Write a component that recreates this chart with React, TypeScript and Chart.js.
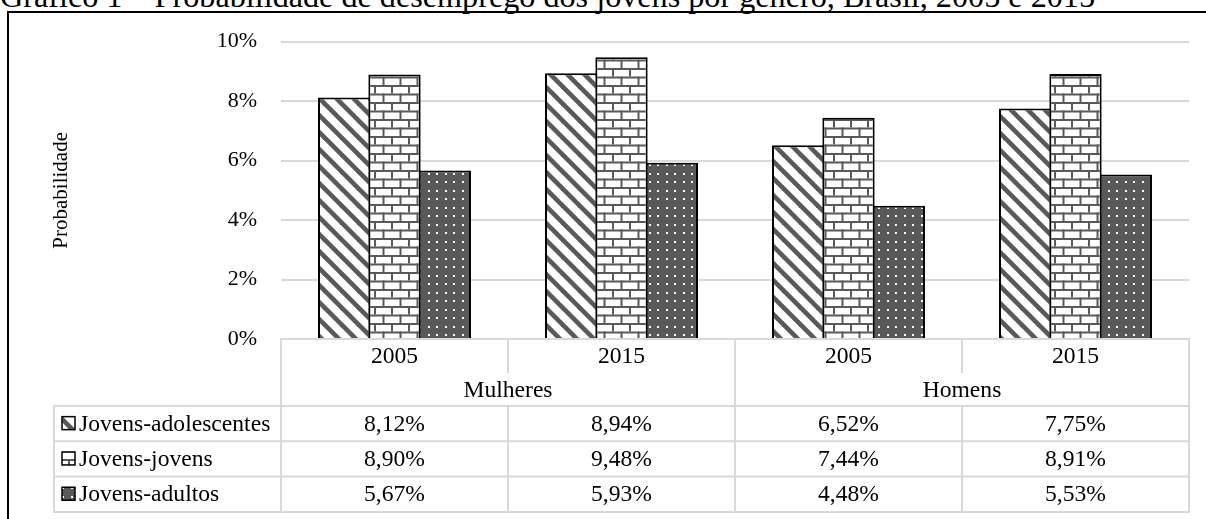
import React, { useEffect, useRef } from "react";
import { Chart, registerables } from "chart.js";

Chart.register(...registerables);

const categories = ["2005", "2015", "2005", "2015"];
const groups = ["Mulheres", "Homens"];
const seriesNames = ["Jovens-adolescentes", "Jovens-jovens", "Jovens-adultos"];
const adolescentes = [8.12, 8.94, 6.52, 7.75];
const jovens = [8.9, 9.48, 7.44, 8.91];
const adultos = [5.67, 5.93, 4.48, 5.53];
const yTicks = [0, 2, 4, 6, 8, 10];

const TITLE = "Gráfico 1 – Probabilidade de desemprego dos jovens por gênero, Brasil, 2005 e 2015";
const FONT = '"Liberation Serif", "Times New Roman", serif';
const DARK = "#595959";
const GRID = "#d9d9d9";

function makeTile(draw: (c: CanvasRenderingContext2D) => void, size: number) {
  const cv = document.createElement("canvas");
  cv.width = size;
  cv.height = size;
  const c = cv.getContext("2d")!;
  draw(c);
  return c.createPattern(cv, "repeat")!;
}

function stripePattern() {
  const T = 17;
  return makeTile((c) => {
    c.fillStyle = "#fff";
    c.fillRect(0, 0, T, T);
    c.strokeStyle = DARK;
    c.lineWidth = 4.6;
    for (let k = -1; k <= 1; k++) {
      c.beginPath();
      c.moveTo(k * T - 2, -2);
      c.lineTo(k * T + T + 2, T + 2);
      c.stroke();
    }
  }, T);
}

function brickPattern() {
  const T = 17;
  return makeTile((c) => {
    c.fillStyle = "#fff";
    c.fillRect(0, 0, T, T);
    c.fillStyle = DARK;
    c.fillRect(0, 0, T, 2);
    c.fillRect(0, 8.5, T, 2);
    c.fillRect(0, 0, 2, 8.5);
    c.fillRect(8.5, 8.5, 2, 8.5);
  }, T);
}

function dotPattern() {
  const T = 17;
  return makeTile((c) => {
    c.fillStyle = DARK;
    c.fillRect(0, 0, T, T);
    c.fillStyle = "#fff";
    for (const px of [3, 11]) {
      for (const py of [3, 11]) {
        c.fillRect(px, py, 2, 2);
      }
    }
  }, T);
}

const fmt = (v: number) => v.toFixed(2).replace(".", ",") + "%";

export default function App() {
  const ref = useRef<HTMLCanvasElement>(null);

  useEffect(() => {
    const canvas = ref.current!;
    const patterns = [stripePattern(), brickPattern(), dotPattern()];
    const seriesData = [adolescentes, jovens, adultos];

    const tablePlugin = {
      id: "dataTable",
      afterDraw(chart: any) {
        const { ctx, chartArea } = chart;
        const x = chart.scales.x;
        const n = categories.length;
        const centers = categories.map((_, i) => x.getPixelForValue(i));
        const bounds = [chartArea.left];
        for (let i = 1; i < n; i++) bounds.push((centers[i - 1] + centers[i]) / 2);
        bounds.push(chartArea.right);

        const top = chartArea.bottom;
        const yearBottom = top + 34;
        const groupBottom = top + 67;
        const rowH = 35.3;
        const rowBottoms = seriesNames.map((_, k) => groupBottom + rowH * (k + 1));
        const tableBottom = rowBottoms[rowBottoms.length - 1];
        const legendLeft = 54;
        const perGroup = n / groups.length;

        ctx.save();
        ctx.strokeStyle = GRID;
        ctx.lineWidth = 2;
        const line = (x1: number, y1: number, x2: number, y2: number) => {
          ctx.beginPath();
          ctx.moveTo(x1, y1);
          ctx.lineTo(x2, y2);
          ctx.stroke();
        };
        line(bounds[0] - 1, top, bounds[n] + 1, top);
        line(legendLeft - 1, groupBottom, bounds[n] + 1, groupBottom);
        rowBottoms.forEach((yb) => line(legendLeft - 1, yb, bounds[n] + 1, yb));
        for (let i = 0; i <= n; i++) {
          if (i % perGroup === 0) {
            line(bounds[i], top, bounds[i], tableBottom);
          } else {
            line(bounds[i], top, bounds[i], yearBottom);
            line(bounds[i], groupBottom, bounds[i], tableBottom);
          }
        }
        line(legendLeft, groupBottom, legendLeft, tableBottom);

        ctx.fillStyle = "#000";
        ctx.font = `23.6px ${FONT}`;
        ctx.textBaseline = "middle";
        ctx.textAlign = "center";
        categories.forEach((c, i) => ctx.fillText(c, centers[i], (top + yearBottom) / 2 + 1));
        groups.forEach((g, gi) => {
          const cx = (bounds[gi * perGroup] + bounds[(gi + 1) * perGroup]) / 2;
          ctx.fillText(g, cx, (yearBottom + groupBottom) / 2 + 1);
        });
        seriesData.forEach((arr, k) => {
          const yc = groupBottom + rowH * k + rowH / 2 + 1;
          arr.forEach((v, i) => ctx.fillText(fmt(v), centers[i], yc));
        });

        ctx.textAlign = "left";
        seriesNames.forEach((name, k) => {
          const yc = groupBottom + rowH * k + rowH / 2;
          const bx = 62;
          const by = yc - 7;
          ctx.fillStyle = patterns[k];
          ctx.fillRect(bx, by, 13, 13);
          ctx.strokeStyle = "#000";
          ctx.lineWidth = 1.5;
          ctx.strokeRect(bx, by, 13, 13);
          ctx.fillStyle = "#000";
          ctx.fillText(name, 79, yc + 1);
        });
        ctx.restore();
      },
    };

    const chart = new Chart(canvas, {
      type: "bar",
      data: {
        labels: categories,
        datasets: seriesNames.map((name, k) => ({
          label: name,
          data: seriesData[k],
          backgroundColor: patterns[k] as any,
          borderColor: "#000",
          borderWidth: 2,
          categoryPercentage: 0.665,
          barPercentage: 1.04,
        })),
      },
      options: {
        animation: false,
        responsive: false,
        layout: { padding: { top: 41.7, bottom: 180, right: 17, left: 0 } },
        plugins: {
          legend: { display: false },
          tooltip: { enabled: false },
          title: { display: false },
        },
        scales: {
          x: { display: false, offset: true, grid: { display: false } },
          y: {
            min: 0,
            max: 10,
            afterBuildTicks: (axis: any) => {
              axis.ticks = yTicks.map((v) => ({ value: v }));
            },
            afterFit: (axis: any) => {
              axis.width = 281;
            },
            ticks: {
              callback: (v: any) => v + "%",
              padding: 24,
              color: "#000",
              font: { family: FONT, size: 22 },
            },
            grid: { color: GRID, lineWidth: 2, drawTicks: false },
            border: { display: false },
            title: {
              display: true,
              text: "Probabilidade",
              color: "#000",
              font: { family: FONT, size: 21 },
              padding: { top: 49, bottom: 0 },
            },
          },
        },
      },
      plugins: [tablePlugin],
    });
    return () => chart.destroy();
  }, []);

  return (
    <div
      style={{
        position: "absolute",
        left: 0,
        top: 0,
        width: 1206,
        height: 519,
        overflow: "hidden",
        background: "#fff",
      }}
    >
      <div
        style={{
          position: "absolute",
          left: 0,
          top: -20,
          fontFamily: FONT,
          fontSize: 32.2,
          lineHeight: "32px",
          whiteSpace: "nowrap",
          color: "#000",
        }}
      >
        {TITLE}
      </div>
      <div
        style={{
          position: "absolute",
          left: 7,
          top: 11,
          width: 1400,
          height: 700,
          border: "2px solid #000",
        }}
      />
      <canvas
        ref={ref}
        width={1206}
        height={519}
        style={{ position: "absolute", left: 0, top: 0, width: 1206, height: 519 }}
      />
    </div>
  );
}
